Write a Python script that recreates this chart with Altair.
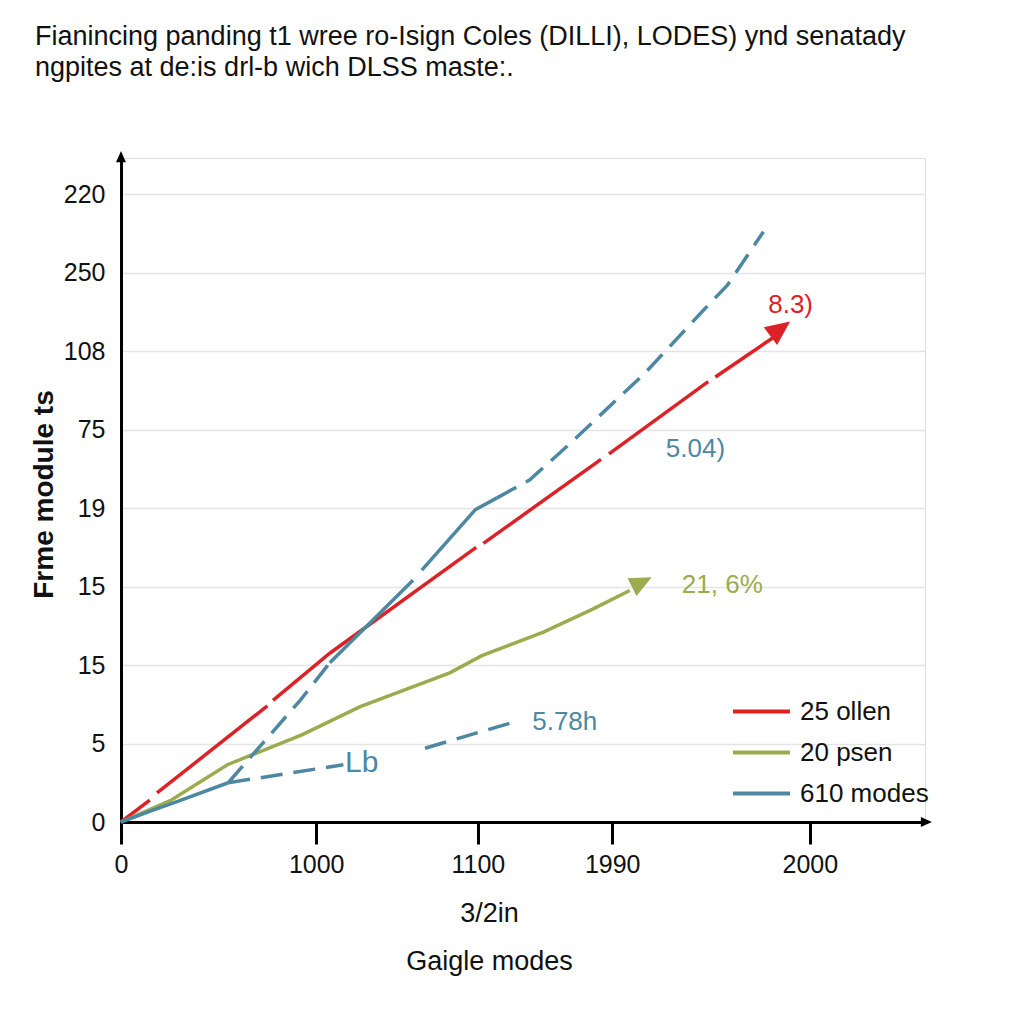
import altair as alt
import pandas as pd

# ---------------- data ----------------
SERIES = ["25 ollen", "20 psen", "610 modes"]
COLORS = ["#dc2227", "#9bab4d", "#4d87a1"]

Y_TICK_LABELS = ["0", "5", "15", "15", "19", "75", "108", "250", "220"]
X_TICK_POS = [0, 24.4, 44.6, 61.4, 86.1]
X_TICK_LABELS = ["0", "1000", "1100", "1990", "2000"]

# red series (drawn in pieces, small gaps between pieces)
red_x = [[0, 3.6], [4.5, 18.3], [19.0, 26.1, 44.4], [45.3, 60.0], [61.0, 73.4], [74.3, 81.5]]
red_y = [[0, 0.28], [0.37, 1.48], [1.55, 2.15, 3.50], [3.55, 4.62], [4.69, 5.61], [5.67, 6.17]]

# green series
green_x = [0, 6.3, 13.3, 22.6, 29.9, 41.1, 45.1, 52.8, 58.9, 63.6]
green_y = [0, 0.28, 0.73, 1.11, 1.47, 1.90, 2.12, 2.42, 2.71, 2.95]

# blue series: solid pieces and dashed pieces
blue_solid_x = [[0, 4.0, 7.0, 13.4], [26.1, 36.5], [37.6, 44.3, 47.0]]
blue_solid_y = [[0, 0.15, 0.26, 0.50], [2.03, 3.08], [3.21, 3.98, 4.13]]
blue_dash_x = [[13.4, 27.8], [13.4, 22.4, 26.1],
               [47.0, 51.1, 55.9, 65.5, 72.8, 75.8, 80.3], [38.0, 49.0]]
blue_dash_y = [[0.50, 0.73], [0.50, 1.55, 2.03],
               [4.13, 4.36, 4.80, 5.72, 6.52, 6.84, 7.52], [0.94, 1.27]]

# arrow heads at the ends of the red and green series
arrow_series = ["25 ollen", "20 psen"]
arrow_x = [82.1, 64.8]
arrow_y = [6.26, 3.04]
arrow_angle = [53, 63]
arrow_size = [950, 760]

# value annotations
ann_text = ["8.3)", "5.04)", "21, 6%", "5.78h", "Lb"]
ann_series = ["25 ollen", "610 modes", "20 psen", "610 modes", "610 modes"]
ann_x = [80.9, 68.1, 70.1, 51.4, 28.0]
ann_y = [6.59, 4.75, 3.02, 1.27, 0.75]
ann_size = [26, 26, 26, 26, 30]

X_MAX = 100.5
Y_MAX = 8.46

# ---------------- tables ----------------
rows = []
seg = 0
def add(series, style, xs, ys):
    global seg
    seg += 1
    for i, (x, y) in enumerate(zip(xs, ys)):
        rows.append(dict(series=series, style=style, seg=seg, i=i, x=x, y=y))

for xs, ys in zip(red_x, red_y):
    add(SERIES[0], "solid", xs, ys)
add(SERIES[1], "solid", green_x, green_y)
for xs, ys in zip(blue_solid_x, blue_solid_y):
    add(SERIES[2], "solid", xs, ys)
for xs, ys in zip(blue_dash_x, blue_dash_y):
    add(SERIES[2], "dashed", xs, ys)
lines = pd.DataFrame(rows)

arrows = pd.DataFrame(dict(series=arrow_series, x=arrow_x, y=arrow_y,
                           angle=arrow_angle, size=arrow_size))
anns = pd.DataFrame(dict(text=ann_text, series=ann_series, x=ann_x, y=ann_y, fs=ann_size))
axis_arrows = pd.DataFrame(dict(x=[0, X_MAX], y=[Y_MAX, 0], angle=[0, 90]))

FONT = "Liberation Sans"
color_scale = alt.Scale(domain=SERIES, range=COLORS)
ARROW_PATH = "M0,-1L0.72,0.6L-0.72,0.6Z"

y_label_expr = "[" + ",".join(f"'{t}'" for t in Y_TICK_LABELS) + "][datum.value]"
x_label_expr = "".join(
    f"datum.value == {p} ? '{t}' : " for p, t in zip(X_TICK_POS, X_TICK_LABELS)
) + "''"

x_enc = alt.X(
    "x:Q",
    scale=alt.Scale(domain=[0, X_MAX], nice=False, zero=False),
    axis=alt.Axis(
        values=X_TICK_POS, labelExpr=x_label_expr, grid=False,
        domainColor="black", domainWidth=3, tickColor="black", tickWidth=3, tickSize=22,
        labelFontSize=25, labelFont=FONT, labelColor="#111", labelPadding=8,
        labelFlush=False, labelOverlap=False,
        title=["3/2in", "Gaigle modes"], titleFont=FONT, titleFontSize=27,
        titleFontWeight="normal", titleColor="#111", titleLineHeight=48,
        titleX=368, titleY=78, titleBaseline="top", titleAlign="center",
    ),
)
y_enc = alt.Y(
    "y:Q",
    scale=alt.Scale(domain=[0, Y_MAX], nice=False, zero=False),
    axis=alt.Axis(
        values=list(range(len(Y_TICK_LABELS))), labelExpr=y_label_expr,
        grid=True, gridColor="#e4e4e4", gridWidth=1.5,
        domainColor="black", domainWidth=3, ticks=False,
        labelFontSize=25, labelFont=FONT, labelColor="#111", labelPadding=16,
        labelOverlap=False,
        title="Frme module ts", titleFont=FONT, titleFontSize=28,
        titleFontWeight="bold", titleColor="#111", titleAngle=-90,
        titleX=-69, titleY=336, titleAlign="center", titleBaseline="alphabetic",
    ),
)

solid = alt.Chart(lines).transform_filter(alt.datum.style == "solid").mark_line(
    strokeWidth=3.5
).encode(
    x=x_enc, y=y_enc,
    color=alt.Color(
        "series:N", scale=color_scale,
        legend=alt.Legend(
            title=None, orient="none", legendX=627, legendY=540,
            symbolType="M-2.5,0H2.5", symbolSize=520, symbolStrokeWidth=4,
            labelFont=FONT, labelFontSize=26, labelColor="#111", labelOffset=25,
            rowPadding=14, padding=0, symbolDash=[1, 0],
        ),
    ),
    detail="seg:N", order="i:Q",
)

dashed = alt.Chart(lines).transform_filter(alt.datum.style == "dashed").mark_line(
    strokeWidth=3.5, strokeDash=[22, 11]
).encode(
    x="x:Q", y="y:Q",
    color=alt.Color("series:N", scale=color_scale, legend=None),
    detail="seg:N", order="i:Q",
)

heads = alt.Chart(arrows).mark_point(
    shape=ARROW_PATH, filled=True, opacity=1, strokeWidth=0
).encode(
    x="x:Q", y="y:Q",
    color=alt.Color("series:N", scale=color_scale, legend=None),
    angle=alt.Angle("angle:Q", scale=None),
    size=alt.Size("size:Q", scale=None),
)

labels = alt.Chart(anns).mark_text(align="left", baseline="middle", font=FONT).encode(
    x="x:Q", y="y:Q", text="text:N",
    color=alt.Color("series:N", scale=color_scale, legend=None),
    size=alt.Size("fs:Q", scale=None),
)

axis_heads = alt.Chart(axis_arrows).mark_point(
    shape=ARROW_PATH, filled=True, size=190, opacity=1, color="black", strokeWidth=0
).encode(x="x:Q", y="y:Q", angle=alt.Angle("angle:Q", scale=None))

chart = alt.layer(solid, dashed, heads, labels, axis_heads).resolve_scale(
    color="independent"
).properties(
    width=804, height=664,
    autosize=alt.AutoSizeParams(type="none"),
    padding={"left": 113, "top": 150, "right": 87, "bottom": 190},
    title=alt.TitleParams(
        text=["Fianincing panding t1 wree ro-Isign Coles (DILLI), LODES) ynd senatady",
              "ngpites at de:is drl-b wich DLSS maste:."],
        anchor="start", frame="group", dx=-86, offset=69, font=FONT, fontSize=27,
        fontWeight="normal", color="#111", lineHeight=31,
    ),
).configure_view(stroke=None).configure(background="white")

chart.save("out.html", embed_options={"renderer": "svg", "actions": False})
